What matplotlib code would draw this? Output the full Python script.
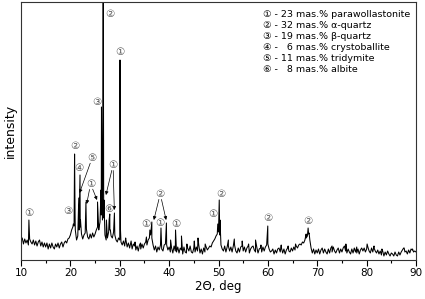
import numpy as np
import matplotlib
matplotlib.use('Agg')
import matplotlib.pyplot as plt
from matplotlib.ticker import MultipleLocator

plt.rcParams['font.family'] = ['DejaVu Sans', 'Noto Sans CJK SC']

# background scan, 0.25 deg step from 10 to 90 (arbitrary intensity units)
bg_start, bg_step = 10.0, 0.25
bg_counts = [
    19, 22, 16, 21, 17, 20, 15, 21, 18, 16, 20, 15, 19, 14, 18, 20, 14, 18, 13, 17,   # 10-15
    13, 17, 11, 16, 12, 17, 13, 11, 16, 13, 17, 12, 16, 18, 13, 17, 19, 17, 21, 22,   # 15-20
    25, 30, 33, 34, 30, 20, 24, 30, 33, 26, 21, 25, 27, 31, 23, 21, 26, 22, 27, 23,   # 20-25
    26, 30, 33, 30, 38, 45, 40, 42, 25, 20, 22, 28, 30, 24, 22, 28, 25, 20, 18, 22,   # 25-30
    20, 18, 15, 19, 14, 20, 13, 17, 12, 18, 11, 16, 14, 10, 14, 9, 15, 11, 16, 12,    # 30-35
    16, 18, 15, 20, 22, 25, 22, 15, 10, 14, 8, 13, 10, 15, 11, 9, 15, 16, 15, 10,     # 35-40
    13, 8, 12, 7, 14, 9, 8, 13, 7, 12, 10, 6, 13, 8, 7, 12, 9, 14, 8, 7,              # 40-45
    12, 8, 13, 9, 15, 7, 11, 6, 12, 8, 13, 10, 12, 14, 13, 17, 19, 21, 24, 26,        # 45-50
    28, 25, 15, 11, 9, 14, 8, 13, 14, 9, 13, 8, 14, 15, 9, 7, 12, 8, 13, 14,          # 50-55
    9, 13, 8, 12, 14, 7, 11, 13, 14, 10, 8, 13, 7, 11, 12, 8, 13, 9, 13, 15,          # 55-60
    16, 11, 8, 9, 11, 6, 10, 7, 11, 12, 8, 12, 7, 11, 6, 10, 12, 9, 8, 12,            # 60-65
    9, 13, 10, 14, 12, 15, 16, 15, 18, 17, 20, 22, 24, 26, 20, 12, 7, 11, 6, 10,      # 65-70
    7, 11, 6, 10, 12, 7, 11, 8, 6, 11, 7, 12, 8, 13, 9, 7, 10, 12, 7, 11,             # 70-75
    8, 12, 14, 9, 7, 11, 8, 6, 11, 7, 12, 8, 7, 11, 6, 10, 12, 9, 12, 8,              # 75-80
    11, 13, 9, 7, 12, 8, 12, 9, 7, 10, 6, 9, 5, 9, 4, 8, 5, 9, 6, 4,                  # 80-85
    7, 6, 4, 8, 5, 4, 8, 5, 8, 10, 12, 8, 9, 6, 10, 7, 11, 10, 8, 9,                  # 85-90
    8,
]

# reflections (position, intensity) on top of the background
peak_2theta = [11.6, 20.6, 20.85, 20.95, 21.7, 21.95, 22.05, 23.15, 25.5, 25.8,
               26.2, 26.3, 26.4, 26.55, 26.65, 26.8, 26.95, 27.3, 27.85, 27.98, 28.1,
               28.92, 30.05, 30.15, 31.2, 32.3, 33.1, 34.2, 35.4, 36.1, 36.5,
               38.35, 39.45, 40.3, 41.3, 42.5, 43.6, 45.1, 45.85, 47.3,
               49.85, 50.15, 50.3, 52.0, 53.2, 54.8, 56.1, 57.5, 58.6, 59.98,
               62.7, 64.1, 65.6, 67.75, 68.15, 68.35, 73.0, 75.8, 78.0, 80.1,
               81.5, 83.1, 87.6, 89.3]
peak_counts = [40, 36, 106, 45, 62, 85, 40, 58, 58, 32,
               70, 153, 80, 110, 320, 60, 33, 40, 40, 46, 30,
               47, 200, 30, 22, 19, 18, 17, 23, 30, 38,
               32, 37, 20, 30, 24, 16, 19, 22, 16,
               36, 60, 40, 20, 21, 19, 16, 20, 15, 34,
               15, 14, 16, 26, 32, 27, 14, 16, 13, 16,
               14, 11, 12, 11]

# phase labels: mark, text position, arrow targets
label_marks = ['①', '③', '②', '④', '⑤', '①', '③', '②', '①', '①', '⑥',
               '①', '②', '①', '①', '①', '②', '②', '②']
label_x = [11.6, 19.4, 21.0, 21.8, 24.4, 24.1, 25.3, 28.0, 30.0, 28.65, 27.8,
           35.2, 38.2, 38.1, 41.3, 48.85, 50.5, 60.0, 68.2]
label_y = [47, 49, 114, 92, 102, 76, 158, 246, 208, 95, 51,
           36, 66, 37, 36, 46, 66, 42, 39]
label_arrows = [[], [], [], [], [(21.85, 67)], [(23.3, 56), (25.4, 60)], [], [], [],
                [(27.2, 65), (28.9, 50)], [], [], [(36.9, 40), (39.4, 40)],
                [], [], [], [], [], []]

phase_marks = ['①', '②', '③', '④', '⑤', '⑥']
phase_pct = ['23', '32', '19', '\u20076', '11', '\u20078']
phase_names = ['parawollastonite', 'α-quartz', 'β-quartz', 'crystoballite',
               'tridymite', 'albite']

# merge background and peaks into one pattern
bg_2theta = bg_start + bg_step * np.arange(len(bg_counts))
x = np.concatenate([bg_2theta, peak_2theta])
y = np.concatenate([bg_counts, peak_counts])
order = np.argsort(x)
x, y = x[order], y[order]

fig = plt.figure(figsize=(4.25, 2.99), dpi=100)
ax = fig.add_axes([21 / 425, 39 / 299, 395 / 425, 258 / 299])
ax.plot(x, y, color='black', lw=0.75)

ax.set_xlim(10, 90)
ax.set_ylim(0, 258)
ax.xaxis.set_major_locator(MultipleLocator(10))
ax.xaxis.set_minor_locator(MultipleLocator(5))
ax.tick_params(axis='x', which='major', direction='out', length=4, width=0.8,
               labelsize=7.5, pad=2)
ax.tick_params(axis='x', which='minor', direction='out', length=2.5, width=0.8)
ax.set_yticks([])
for s in ax.spines.values():
    s.set_linewidth(0.8)
    s.set_color('#333333')

ax.set_xlabel('2Θ, deg', fontsize=8.5, labelpad=1)
ax.set_ylabel('intensity', fontsize=9, labelpad=3)

for mark, lx, ly, arrows in zip(label_marks, label_x, label_y, label_arrows):
    ax.text(lx, ly, mark, fontsize=7.5, color='#555555', ha='center', va='center')
    for tx, ty in arrows:
        ax.annotate('', xy=(tx, ty), xytext=(lx, ly),
                    arrowprops=dict(arrowstyle='-|>', color='black', lw=0.5,
                                    mutation_scale=5, shrinkA=4, shrinkB=0))

for i, (mark, pct, name) in enumerate(zip(phase_marks, phase_pct, phase_names)):
    ax.text(0.613, 0.950 - i * 0.0426, f'{mark} - {pct} mas.% {name}',
            transform=ax.transAxes, fontsize=6.8, ha='left', va='center')

fig.savefig('out.png', dpi=100)
